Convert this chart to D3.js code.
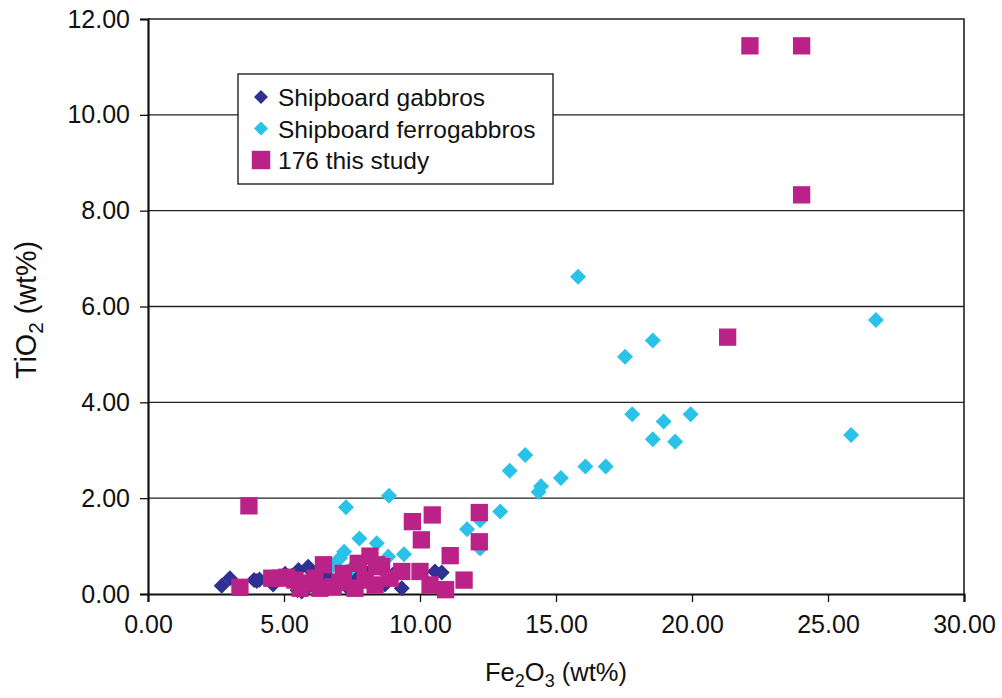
<!DOCTYPE html>
<html>
<head>
<meta charset="utf-8">
<script src="https://cdn.jsdelivr.net/npm/d3@7"></script>
<style>
  html, body { margin: 0; padding: 0; background: #fff; }
  svg text { font-family: "Liberation Sans", Arial, Helvetica, sans-serif; fill: #111; }
</style>
</head>
<body>
<svg id="chart" width="1002" height="698"></svg>
<script>
// Fe2O3 (wt%) vs TiO2 (wt%)
const gabbroFe = [2.71, 3.01, 3.90, 4.00, 4.10, 4.60, 5.04, 5.30, 5.53, 5.65, 5.96, 5.50, 5.80, 6.10, 6.40, 6.70, 7.00, 7.30, 7.60, 7.90, 5.89, 8.20, 8.50, 8.71, 8.77, 9.33, 9.00, 10.55, 10.80, 6.20, 7.40];
const gabbroTi = [0.17, 0.33, 0.29, 0.27, 0.30, 0.20, 0.42, 0.38, 0.50, 0.05, 0.50, 0.08, 0.10, 0.35, 0.40, 0.30, 0.25, 0.45, 0.35, 0.40, 0.57, 0.50, 0.55, 0.20, 0.43, 0.12, 0.40, 0.47, 0.45, 0.15, 0.10];

const ferroFe = [15.81, 26.76, 18.56, 17.54, 17.80, 18.96, 19.95, 18.56, 19.38, 25.85, 13.87, 13.30, 16.08, 16.83, 15.18, 14.45, 14.36, 12.95, 12.21, 12.21, 11.73, 8.86, 7.28, 7.77, 7.21, 7.06, 8.41, 8.83, 9.41, 6.80, 7.50];
const ferroTi = [6.62, 5.72, 5.29, 4.95, 3.75, 3.60, 3.75, 3.23, 3.18, 3.32, 2.90, 2.57, 2.66, 2.66, 2.42, 2.25, 2.13, 1.72, 1.54, 0.95, 1.35, 2.05, 1.81, 1.16, 0.88, 0.75, 1.06, 0.78, 0.83, 0.60, 0.55];

const studyFe = [22.13, 24.03, 24.03, 21.31, 3.71, 3.38, 4.55, 5.10, 4.85, 6.45, 9.72, 10.45, 12.18, 10.05, 12.18, 11.11, 9.33, 10.00, 10.37, 10.94, 11.62, 8.16, 7.73, 7.18, 8.59, 8.41, 6.81, 7.61, 5.40, 5.77, 6.14, 5.59, 6.32, 7.06, 7.98, 8.35, 8.90];
const studyTi = [11.44, 11.44, 8.33, 5.36, 1.84, 0.14, 0.33, 0.35, 0.33, 0.61, 1.51, 1.65, 1.70, 1.13, 1.09, 0.80, 0.47, 0.47, 0.19, 0.09, 0.29, 0.79, 0.64, 0.43, 0.57, 0.61, 0.15, 0.12, 0.29, 0.23, 0.33, 0.12, 0.12, 0.25, 0.29, 0.19, 0.33];

const xTicks = [0, 5, 10, 15, 20, 25, 30];
const yTicks = [0, 2, 4, 6, 8, 10, 12];
const seriesNames = ["Shipboard gabbros", "Shipboard ferrogabbros", "176 this study"];
const seriesColors = ["#2E3192", "#29C2E8", "#BB2288"];

const svg = d3.select("#chart");
const plotLeft = 148, plotRight = 964, plotTop = 19, plotBottom = 594;

const x = d3.scaleLinear().domain([0, 30]).range([plotLeft, plotRight]);
const y = d3.scaleLinear().domain([0, 12]).range([plotBottom, plotTop]);

// horizontal gridlines
svg.append("g")
  .selectAll("line")
  .data(yTicks.filter(d => d > 0 && d < 12))
  .join("line")
  .attr("x1", plotLeft).attr("x2", plotRight)
  .attr("y1", d => y(d)).attr("y2", d => y(d))
  .attr("stroke", "#222").attr("stroke-width", 1.4);

// frame: top and right edges
svg.append("path")
  .attr("d", `M${plotLeft},${plotTop}H${plotRight}V${plotBottom}`)
  .attr("fill", "none").attr("stroke", "#222").attr("stroke-width", 1.6);

// axes
const xAxis = svg.append("g")
  .attr("transform", `translate(0,${plotBottom})`)
  .call(d3.axisBottom(x).tickValues(xTicks).tickFormat(d3.format(".2f")).tickSizeOuter(0).tickSize(8).tickPadding(13));
const yAxis = svg.append("g")
  .attr("transform", `translate(${plotLeft},0)`)
  .call(d3.axisLeft(y).tickValues(yTicks).tickFormat(d3.format(".2f")).tickSizeOuter(0).tickSize(8).tickPadding(10));

[xAxis, yAxis].forEach(g => {
  g.select(".domain").attr("stroke", "#111").attr("stroke-width", 2.2);
  g.selectAll(".tick line").attr("stroke", "#111").attr("stroke-width", 1.3);
  g.selectAll(".tick text").attr("font-size", 25).attr("fill", "#111")
    .attr("font-family", '"Liberation Sans", Arial, sans-serif');
});

// markers
const diamond = d3.symbol().type(d3.symbolSquare).size(128);
const square = d3.symbol().type(d3.symbolSquare).size(300);

function drawDiamonds(xs, ys, color) {
  svg.append("g").selectAll("path")
    .data(xs.map((v, i) => [v, ys[i]]))
    .join("path")
    .attr("d", diamond)
    .attr("transform", d => `translate(${x(d[0])},${y(d[1])}) rotate(45)`)
    .attr("fill", color);
}
drawDiamonds(gabbroFe, gabbroTi, seriesColors[0]);
drawDiamonds(ferroFe, ferroTi, seriesColors[1]);

svg.append("g").selectAll("path")
  .data(studyFe.map((v, i) => [v, studyTi[i]]))
  .join("path")
  .attr("d", square)
  .attr("transform", d => `translate(${x(d[0])},${y(d[1])})`)
  .attr("fill", seriesColors[2]);

// legend
const legend = svg.append("g").attr("transform", "translate(238,74)");
legend.append("rect")
  .attr("width", 315).attr("height", 110)
  .attr("fill", "#fff").attr("stroke", "#222").attr("stroke-width", 1.4);
seriesNames.forEach((name, i) => {
  const cy = 23 + i * 31.5;
  const mark = legend.append("path")
    .attr("fill", seriesColors[i]);
  if (i < 2) {
    mark.attr("d", d3.symbol().type(d3.symbolSquare).size(98))
      .attr("transform", `translate(23,${cy}) rotate(45)`);
  } else {
    mark.attr("d", d3.symbol().type(d3.symbolSquare).size(340)).attr("transform", `translate(23,${cy})`);
  }
  legend.append("text")
    .attr("x", 40).attr("y", cy + 9)
    .attr("font-size", 24.5)
    .text(name);
});

// axis titles
const xt = svg.append("text")
  .attr("x", 556).attr("y", 681)
  .attr("text-anchor", "middle").attr("font-size", 25.5);
xt.append("tspan").text("Fe");
xt.append("tspan").attr("font-size", 18).attr("dy", 6).text("2");
xt.append("tspan").attr("dy", -6).text("O");
xt.append("tspan").attr("font-size", 18).attr("dy", 6).text("3");
xt.append("tspan").attr("dy", -6).text(" (wt%)");

const yt = svg.append("text")
  .attr("transform", "translate(36,310) rotate(-90)")
  .attr("text-anchor", "middle").attr("font-size", 29)
  .attr("textLength", 138).attr("lengthAdjust", "spacingAndGlyphs");
yt.append("tspan").text("TiO");
yt.append("tspan").attr("font-size", 21).attr("dy", 7).text("2");
yt.append("tspan").attr("dy", -7).text(" (wt%)");
</script>
</body>
</html>
